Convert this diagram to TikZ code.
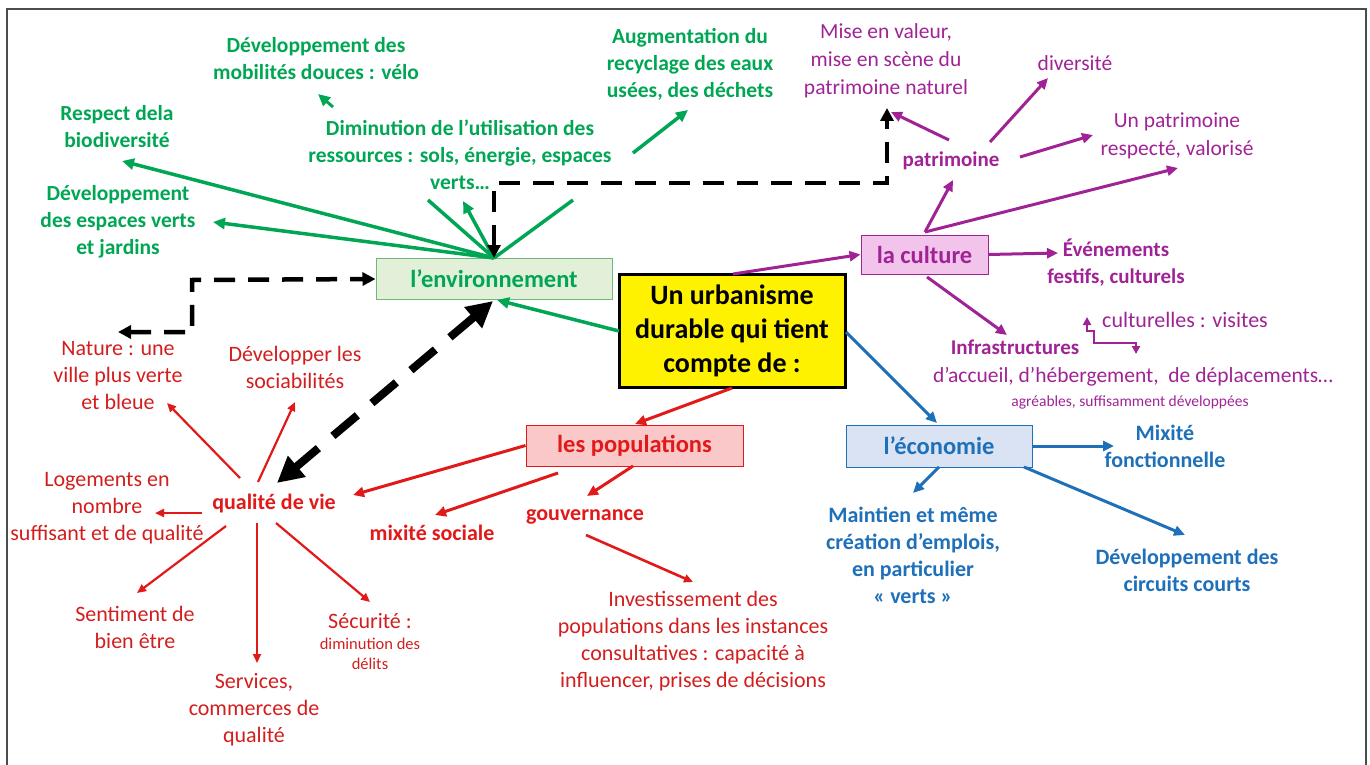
\documentclass[tikz,border=0pt]{standalone}
\usepackage{fontspec}
\setmainfont{Carlito}
\usetikzlibrary{arrows.meta}
\definecolor{gr}{RGB}{0,166,84}
\definecolor{envfill}{RGB}{226,240,217}
\definecolor{envdraw}{RGB}{110,185,120}
\definecolor{pu}{RGB}{160,35,150}
\definecolor{culfill}{RGB}{242,196,236}
\definecolor{rd}{RGB}{225,25,25}
\definecolor{rdt}{RGB}{210,30,30}
\definecolor{popfill}{RGB}{250,200,200}
\definecolor{bl}{RGB}{30,112,185}
\definecolor{ecofill}{RGB}{218,227,243}
\begin{document}
\begin{tikzpicture}[x=1pt,y=-1pt,
  every node/.style={inner sep=0pt, align=center},
  gb/.style={text=gr, font=\bfseries\fontsize{21.5}{27}\selectfont},
  pr/.style={text=pu, font=\fontsize{21.5}{28}\selectfont},
  pb/.style={text=pu, font=\bfseries\fontsize{21}{27}\selectfont},
  bb/.style={text=bl, font=\bfseries\fontsize{22}{27}\selectfont},
  rr/.style={text=rdt, font=\fontsize{22}{27}\selectfont},
  rb/.style={text=rd, font=\bfseries\fontsize{22}{27}\selectfont},
  catbox/.style={font=\bfseries\fontsize{24.5}{28}\selectfont, line width=1pt},
  ga/.style={draw=gr, line width=3.5pt, -{Triangle[length=12pt,width=11pt]}},
  gl/.style={draw=gr, line width=3.5pt},
  pa/.style={draw=pu, line width=3pt, -{Triangle[length=11pt,width=10pt]}},
  ba/.style={draw=bl, line width=3pt, -{Triangle[length=11pt,width=10pt]}},
  ra/.style={draw=rd, line width=3pt, -{Triangle[length=11pt,width=10pt]}},
  rs/.style={draw=rd, line width=2.2pt, -{Triangle[length=9pt,width=8pt]}},
  kd/.style={draw=black, line width=4.5pt, dash pattern=on 21pt off 13pt, {Triangle[length=13pt,width=13pt]}-{Triangle[length=13pt,width=13pt]}},
  kbig/.style={draw=black, line width=8pt, dash pattern=on 32pt off 19pt, {Triangle[length=26pt,width=26pt]}-{Triangle[length=26pt,width=26pt]}}
]
\useasboundingbox (0,0) rectangle (1370,765);
\draw[line width=2pt, draw=black!70] (7,775) -- (7,9) -- (1366,9) -- (1366,775);

% ---------- central node ----------
\node[draw=black, line width=3pt, fill=yellow, minimum width=226pt, minimum height=113pt,
  font=\bfseries\fontsize{28}{34}\selectfont] (ctr) at (732,331) {Un urbanisme\\durable qui tient\\compte de :};

% ---------- category boxes ----------
\node[catbox, draw=envdraw, fill=envfill, text=gr, minimum width=236pt, minimum height=41pt] (env) at (494,279) {l’environnement};
\node[catbox, draw=pu, fill=culfill, text=pu, minimum width=127pt, minimum height=39pt] (cul) at (924.5,254.5) {la culture};
\node[catbox, draw=rd, fill=popfill, text=rd, minimum width=217pt, minimum height=41pt] (pop) at (634.5,445.5) {les populations};
\node[catbox, draw=bl, fill=ecofill, text=bl, minimum width=186pt, minimum height=42pt] (eco) at (939,446) {l’économie};

% ---------- green texts ----------
\node[gb] (mob) at (316,59) {Développement des\\mobilités douces : vélo};
\node[gb] (bio) at (117,127) {Respect dela\\biodiversité};
\node[gb] (esp) at (118,222) {Développement\\des espaces verts\\et jardins};
\node[gb] (dim) at (460,155) {Diminution de l’utilisation des\\ressources : sols, énergie, espaces\\verts…};
\node[gb] (aug) at (690,64) {Augmentation du\\recyclage des eaux\\usées, des déchets};

% ---------- purple texts ----------
\node[pr] (mise) at (886,61) {Mise en valeur,\\mise en scène du\\patrimoine naturel};
\node[pr] (div) at (1075,63) {diversité};
\node[pr] (unpat) at (1177,136) {Un patrimoine\\respecté, valorisé};
\node[pb] (patr) at (951,161) {patrimoine};
\node[pb] (eve) at (1116,263) {Événements\\festifs, culturels};
\node[pb] (infra) at (1015,347) {Infrastructures};
\node[pr, font=\fontsize{22}{26}\selectfont] (cult) at (1185,320) {culturelles : visites};
\node[pr, font=\fontsize{21.5}{26}\selectfont] (acc) at (1133,377) {d’accueil, d’hébergement,\ \ de déplacements…};
\node[pr, font=\fontsize{15.5}{18}\selectfont] (agr) at (1130,402) {agréables, suffisamment développées};

% ---------- blue texts ----------
\node[bb] (mixf) at (1165,446) {Mixité\\fonctionnelle};
\node[bb] (maint) at (913,555) {Maintien et même\\création d’emplois,\\en particulier\\« verts »};
\node[bb] (circ) at (1187,570) {Développement des\\circuits courts};

% ---------- red texts ----------
\node[rb] (qual) at (274,504) {qualité de vie};
\node[rb] (mixs) at (432,533) {mixité sociale};
\node[rb] (gouv) at (585,517) {gouvernance};
\node[rr] (inv) at (693,641) {Investissement des\\populations dans les instances\\consultatives : capacité à\\influencer, prises de décisions};
\node[rr] (nat) at (118,376) {Nature : une\\ville plus verte\\et bleue};
\node[rr] (dev) at (295,367) {Développer les\\sociabilités};
\node[rr] (log) at (107,508) {Logements en\\nombre\\suffisant et de qualité};
\node[rr] (sent) at (135,627) {Sentiment de\\bien être};
\node[rr] (serv) at (254,710) {Services,\\commerces de\\qualité};
\node[rr] (secu) at (370,621) {Sécurité :};
\node[rr, font=\fontsize{16.5}{20}\selectfont] (secu2) at (370,654) {diminution des\\délits};

% ---------- connector end points ----------
\coordinate (envT) at (494,258);
\coordinate (bioA) at (122,161);
\coordinate (espA) at (213,222);
\coordinate (dimA) at (463,201);
\coordinate (dimL) at (428,200);
\coordinate (dimR) at (573,200);
\coordinate (mobS) at (333,107);
\coordinate (mobA) at (318,94);
\coordinate (augS) at (633,153);
\coordinate (augA) at (688,110);
\coordinate (ctrW) at (619,331);
\coordinate (envS) at (497,300);

\coordinate (ctrN) at (733,274);
\coordinate (culN) at (925,232);
\coordinate (patrA) at (953,180);
\coordinate (unpA) at (1178,168);
\coordinate (eveA) at (1058,253);
\coordinate (culS) at (927,277);
\coordinate (infA) at (1007,335);
\coordinate (patrL) at (949,140);
\coordinate (miseA) at (891,112);
\coordinate (patrM) at (990,142);
\coordinate (divA) at (1048,78);
\coordinate (patrR) at (1020,157);
\coordinate (unpB) at (1093,135);
\coordinate (zz1) at (1087,317);
\coordinate (zz2) at (1136,354);

\coordinate (ctrE) at (846,332);
\coordinate (ecoN) at (937,423);
\coordinate (ecoSL) at (939,467);
\coordinate (maintA) at (913,493);
\coordinate (ecoSR) at (1024,467);
\coordinate (circA) at (1185,535);
\coordinate (mixfA) at (1114,446);

\coordinate (ctrS) at (732,388);
\coordinate (popN) at (635,424);
\coordinate (qualA) at (353,495);
\coordinate (popS1) at (558,473);
\coordinate (mixsA) at (435,515);
\coordinate (popS2) at (633,466);
\coordinate (gouvA) at (587,496);
\coordinate (gouvS) at (586,535);
\coordinate (invA) at (693,582);

\coordinate (q1) at (240,478);
\coordinate (natA) at (167,403);
\coordinate (q2) at (258,482);
\coordinate (devA) at (295,402);
\coordinate (q3) at (202,513);
\coordinate (logA) at (155,513);
\coordinate (q4) at (226,526);
\coordinate (sentA) at (137,593);
\coordinate (q5) at (257,523);
\coordinate (servA) at (257,663);
\coordinate (q6) at (276,523);
\coordinate (secuA) at (370,602);

\coordinate (envB) at (493,301);
\coordinate (qualB) at (277,483);

% ---------- green connectors ----------
\draw[ga] (envT) -- (bioA);
\draw[ga] (envT) -- (espA);
\draw[gl] (envT) -- (dimL);
\draw[gl] (envT) -- (dimR);
\draw[ga] (envT) -- (dimA);
\draw[ga, line width=3pt] (mobS) -- (mobA);
\draw[ga] (augS) -- (augA);
\draw[ga] (ctrW) -- (envS);

% ---------- purple connectors ----------
\draw[pa] (ctrN) -- (cul.west);
\draw[pa] (culN) -- (patrA);
\draw[pa] (culN) -- (unpA);
\draw[pa] (cul.east) -- (eveA);
\draw[pa] (culS) -- (infA);
\draw[pa] (patrL) -- (miseA);
\draw[pa] (patrM) -- (divA);
\draw[pa] (patrR) -- (unpB);
\draw[draw=pu, line width=2.5pt, {Triangle[length=8pt,width=8pt]}-{Triangle[length=8pt,width=8pt]}]
  (zz1) -- (1087,331) -- (1094,331) -- (1094,343) -- (1136,343) -- (zz2);

% ---------- blue connectors ----------
\draw[ba] (ctrE) -- (ecoN);
\draw[ba] (eco.east) -- (mixfA);
\draw[ba] (ecoSL) -- (maintA);
\draw[ba] (ecoSR) -- (circA);

% ---------- red connectors ----------
\draw[ra] (ctrS) -- (popN);
\draw[ra] (pop.west) -- (qualA);
\draw[ra] (popS1) -- (mixsA);
\draw[ra] (popS2) -- (gouvA);
\draw[rs, line width=2.6pt] (gouvS) -- (invA);
\draw[rs] (q1) -- (natA);
\draw[rs] (q2) -- (devA);
\draw[rs] (q3) -- (logA);
\draw[rs] (q4) -- (sentA);
\draw[rs] (q5) -- (servA);
\draw[rs] (q6) -- (secuA);

% ---------- black dashed connectors ----------
\draw[kd] (envT) -- (494,183) -- (887,183) -- (887,108);
\draw[kd] (118,332) -- (192,332) -- (192,280) -- (env.west);
\draw[kbig] (envB) -- (qualB);
\end{tikzpicture}
\end{document}
